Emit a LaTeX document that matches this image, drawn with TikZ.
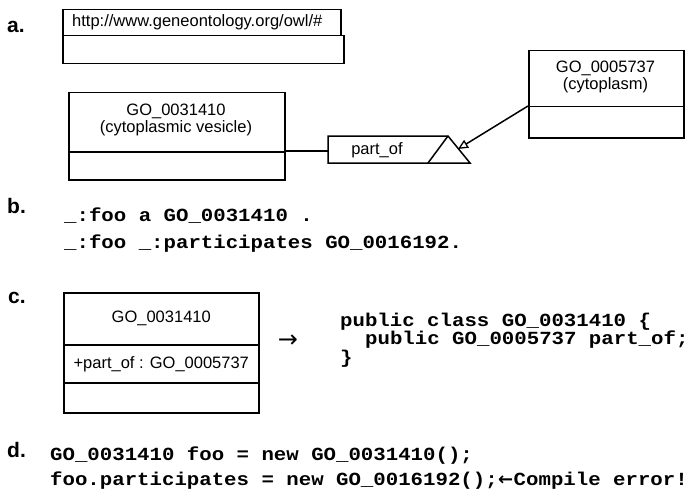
\documentclass[tikz,border=0pt]{standalone}
\usepackage{fontspec}
\setmainfont{Liberation Sans}
\newfontfamily\codefont{Liberation Mono}[FakeStretch=1.12]
\newfontfamily\symfont{DejaVu Sans}
\usetikzlibrary{arrows.meta}
\tikzset{
  box/.style={draw, line width=1.5pt, inner sep=0pt, anchor=north west},
  umltext/.style={font=\fontsize{16.5}{17}\selectfont, inner sep=0pt, align=center},
  code/.style={font=\codefont\bfseries\fontsize{18.5}{22}\selectfont, anchor=base west, inner sep=0pt},
  lbl/.style={font=\bfseries\fontsize{21}{24}\selectfont, anchor=base west, inner sep=0pt},
  conn/.style={line width=1.5pt}
}
\begin{document}
\begin{tikzpicture}[x=1pt,y=-1pt]
\path[use as bounding box] (0,0) rectangle (694,495);
% ---------- a ----------
\node[lbl] (la) at (7,33) {a.};
\node[box, minimum width=278pt, minimum height=26pt] (nstab) at (62,9) {};
\node[box, minimum width=281pt, minimum height=28pt] (nsbody) at (62,35) {};
\node[umltext, anchor=west] (nsurl) at (72,22) {http://www.geneontology.org/owl/\#};
% left class
\node[box, minimum width=216pt, minimum height=59pt] (v1) at (68,92) {};
\node[box, minimum width=216pt, minimum height=28pt] (v2) at (68,151) {};
\node[umltext] (vt) at (176,120) {GO\_0031410\\(cytoplasmic vesicle)};
% right class
\node[box, minimum width=155pt, minimum height=56pt] (c1) at (528,50) {};
\node[box, minimum width=155pt, minimum height=31pt] (c2) at (528,106) {};
\node[umltext] (ct) at (605.5,77) {GO\_0005737\\(cytoplasm)};
% part_of association box
\coordinate (poNW) at (328,136);
\coordinate (poNE) at (448,136);
\coordinate (poTip) at (470,163);
\coordinate (poSW) at (328,163);
\coordinate (poBase) at (428,163);
\coordinate (poW) at (328,151);
\coordinate (hit) at (458,149);
\draw[conn, line join=miter] (poNW) -- (poNE) -- (poTip) -- (poSW) -- cycle;
\draw[conn] (poBase) -- (poNE);
\node[umltext] (potext) at (377,150) {part\_of};
\draw[conn] (v2.north east) -- (poW);
\draw[conn, -{Triangle[open, length=10pt, width=9pt, line width=1.3pt]}] (c2.north west) -- (hit);
% ---------- b ----------
\node[lbl] (lb) at (7,213) {b.};
\node[code] (b1) at (64,221) {\_:foo a GO\_0031410 .};
\node[code] (b2) at (64,248) {\_:foo \_:participates GO\_0016192.};
% ---------- c ----------
\node[lbl] (lc) at (8,303) {c.};
\node[box, minimum width=195pt, minimum height=52pt] (k1) at (63,292) {};
\node[box, minimum width=195pt, minimum height=38pt] (k2) at (63,344) {};
\node[box, minimum width=195pt, minimum height=30pt] (k3) at (63,382) {};
\node[umltext] (k1t) at (k1.center) {GO\_0031410};
\node[umltext] (k2t) at (k2.center) {+part\_of : GO\_0005737};
\node[inner sep=0pt, font=\symfont\fontsize{24}{24}\selectfont] (carrow) at (288,341) {→};
\node[code] (j1) at (340,326) {public class GO\_0031410 \{};
\node[code] (j2) at (365,344) {public GO\_0005737 part\_of;};
\node[code] (j3) at (340,363) {\}};
% ---------- d ----------
\node[lbl] (ld) at (7,457) {d.};
\node[code] (d1) at (50,460) {GO\_0031410 foo = new GO\_0031410();};
\node[code] (d2) at (50,485) {foo.participates = new GO\_0016192();};
\node[inner sep=0pt, anchor=base west, font=\symfont\bfseries\fontsize{18}{18}\selectfont] (d2arr) at (d2.base east) {←};
\node[code] (d2err) at (d2arr.base east) {Compile error!};
\end{tikzpicture}
\end{document}
